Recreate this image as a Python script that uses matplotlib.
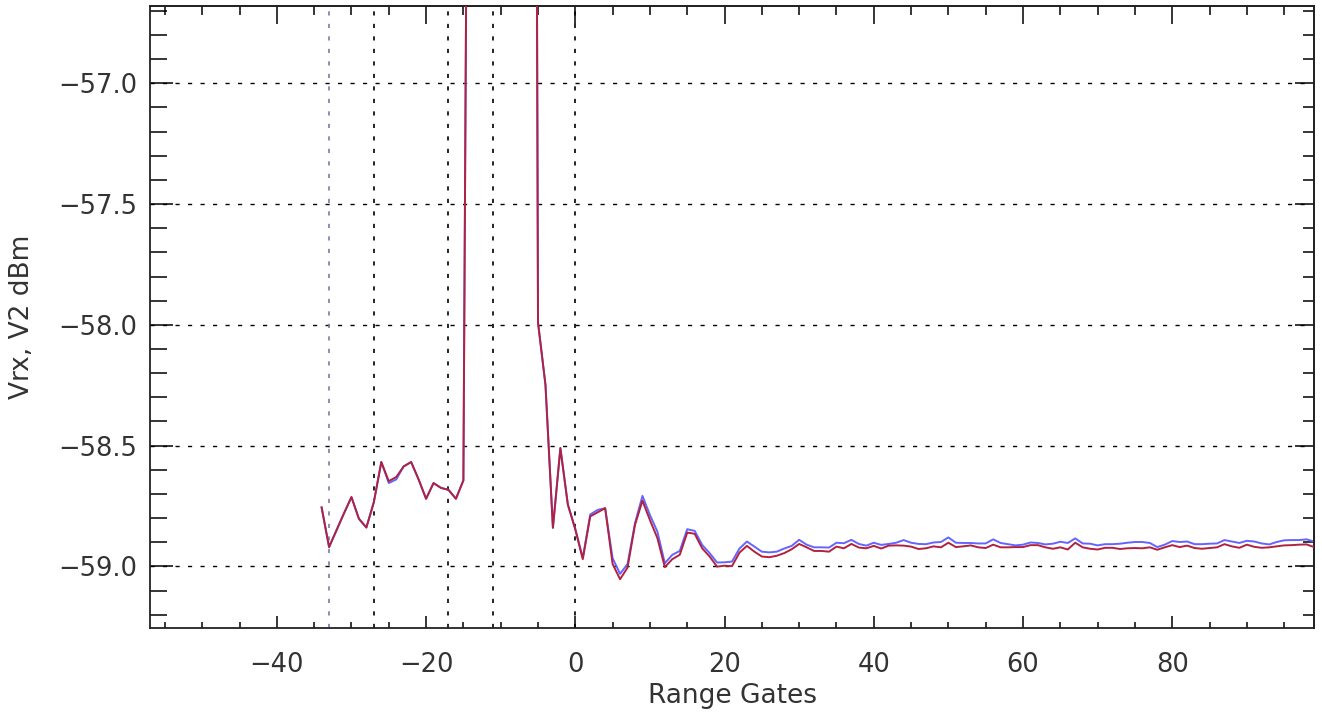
import numpy as np
import matplotlib
matplotlib.use("Agg")
import matplotlib.pyplot as plt
from matplotlib.ticker import MultipleLocator, FuncFormatter

# range gates -34 .. 99
gates = np.arange(-34, 100)

# red trace (V2)
v2_red = [
    -58.756, -58.920, -58.850, -58.780, -58.713, -58.803, -58.839, -58.734,
    -58.568, -58.647, -58.630, -58.586, -58.568, -58.640, -58.720, -58.655,
    -58.675, -58.683, -58.720, -58.644,
    # -14 .. -6 : main bang, off scale
    -53.2, -51.0, -49.5, -48.5, -48.0, -47.8, -47.8, -47.9, -48.1,
    # -5 .. 4
    -57.990, -58.248, -58.840, -58.510, -58.744, -58.847, -58.970, -58.793,
    -58.776, -58.759,
    # 5 .. 47
    -58.990, -59.053, -59.005, -58.828, -58.728, -58.808, -58.883, -59.003,
    -58.970, -58.952, -58.860, -58.865, -58.925, -58.959, -59.001, -58.997,
    -58.999, -58.943, -58.915, -58.939, -58.959, -58.962, -58.956, -58.945,
    -58.929, -58.907, -58.921, -58.936, -58.936, -58.939, -58.918, -58.925,
    -58.907, -58.922, -58.925, -58.915, -58.926, -58.914, -58.913, -58.914,
    -58.918, -58.928, -58.925,
    # 48 .. 99
    -58.917, -58.921, -58.902, -58.920, -58.917, -58.913, -58.921, -58.924,
    -58.910, -58.921, -58.921, -58.920, -58.920, -58.912, -58.912, -58.921,
    -58.927, -58.921, -58.930, -58.902, -58.921, -58.927, -58.930, -58.923,
    -58.923, -58.928, -58.925, -58.924, -58.925, -58.921, -58.931, -58.921,
    -58.912, -58.920, -58.914, -58.924, -58.927, -58.924, -58.921, -58.908,
    -58.917, -58.923, -58.910, -58.919, -58.923, -58.921, -58.917, -58.913,
    -58.912, -58.910, -58.909, -58.920,
]

# blue trace
v2_blue = [
    -58.756, -58.920, -58.850, -58.780, -58.713, -58.803, -58.839, -58.734,
    -58.568, -58.655, -58.640, -58.586, -58.568, -58.640, -58.720, -58.655,
    -58.675, -58.683, -58.720, -58.644,
    -53.2, -51.0, -49.5, -48.5, -48.0, -47.8, -47.8, -47.9, -48.1,
    -57.990, -58.248, -58.840, -58.510, -58.744, -58.845, -58.965, -58.785,
    -58.766, -58.759,
    -58.966, -59.031, -58.990, -58.821, -58.708, -58.787, -58.856, -58.987,
    -58.952, -58.936, -58.846, -58.853, -58.911, -58.945, -58.984, -58.983,
    -58.980, -58.926, -58.897, -58.918, -58.939, -58.942, -58.939, -58.926,
    -58.915, -58.890, -58.910, -58.921, -58.921, -58.922, -58.902, -58.904,
    -58.890, -58.907, -58.914, -58.902, -58.911, -58.907, -58.902, -58.891,
    -58.902, -58.907, -58.908,
    -58.901, -58.899, -58.880, -58.902, -58.903, -58.903, -58.905, -58.905,
    -58.888, -58.903, -58.908, -58.913, -58.910, -58.901, -58.903, -58.909,
    -58.906, -58.898, -58.903, -58.884, -58.905, -58.906, -58.913, -58.908,
    -58.908, -58.906, -58.902, -58.899, -58.899, -58.903, -58.920, -58.910,
    -58.895, -58.899, -58.897, -58.908, -58.908, -58.906, -58.905, -58.891,
    -58.897, -58.903, -58.894, -58.897, -58.905, -58.909, -58.899, -58.892,
    -58.891, -58.891, -58.888, -58.897,
]

# marker lines on the gate axis
gate_marks_black = [-27, -17, -11, 0]
gate_mark_grey = -33
y_grid = [-59.0, -58.5, -58.0, -57.5, -57.0]

x_range = (-57, 99)
y_range = (-59.255, -56.68)

plt.rcParams['font.family'] = ['DejaVu Sans']

fig = plt.figure(figsize=(13.22, 7.17), dpi=100)
ax = fig.add_axes([150 / 1322, 89 / 717, 1164 / 1322, 622 / 717])

# grid lines
for yv in y_grid:
    ax.axhline(yv, color='black', lw=1.0, ls=(0, (3, 6)), zorder=1)
for xv in gate_marks_black:
    ax.axvline(xv, color='black', lw=1.2, ls=(0, (2.5, 5)), zorder=1)
ax.axvline(gate_mark_grey, color='#7a7aa8', lw=1.2, ls=(0, (2.5, 5)), zorder=1)

ax.plot(gates, v2_blue, color='#6464ff', lw=1.4, zorder=2)
ax.plot(gates, v2_red, color='#b0223f', lw=1.4, zorder=3)

ax.set_xlim(*x_range)
ax.set_ylim(*y_range)

ax.xaxis.set_major_locator(MultipleLocator(20))
ax.xaxis.set_minor_locator(MultipleLocator(5))
ax.yaxis.set_major_locator(MultipleLocator(0.5))
ax.yaxis.set_minor_locator(MultipleLocator(0.1))
ax.yaxis.set_major_formatter(FuncFormatter(lambda v, p: f'{v:.1f}'.replace('-', '\u2212')))

ax.tick_params(axis='x', which='major', direction='in', length=8.6, width=1.1,
               pad=17, labelsize=18.5, labelcolor='#333333')
ax.tick_params(axis='x', which='minor', direction='in', length=4.3, width=1.1)
ax.tick_params(axis='y', which='major', direction='in', length=16.5, width=1.1,
               pad=9, labelsize=18.5, labelcolor='#333333')
ax.tick_params(axis='y', which='minor', direction='in', length=12, width=1.1)

# mirrored ticks on top and right
top = ax.secondary_xaxis('top')
top.xaxis.set_major_locator(MultipleLocator(20))
top.xaxis.set_minor_locator(MultipleLocator(5))
top.tick_params(which='major', direction='in', length=13, width=1.1, labeltop=False)
top.tick_params(which='minor', direction='in', length=6.5, width=1.1)
right = ax.secondary_yaxis('right')
right.yaxis.set_major_locator(MultipleLocator(0.5))
right.yaxis.set_minor_locator(MultipleLocator(0.1))
right.tick_params(which='major', direction='in', length=14, width=1.1, labelright=False)
right.tick_params(which='minor', direction='in', length=8, width=1.1)

for a in (ax, top, right):
    for s in a.spines.values():
        s.set_color('#222222')
        s.set_linewidth(1.3)

ax.set_xlabel('Range Gates', fontsize=19, color='#333333', labelpad=4)
ax.set_ylabel('Vrx, V2 dBm', fontsize=19, color='#333333')
ax.yaxis.set_label_coords(-0.099, 0.5)

fig.savefig('out.png', dpi=100)
